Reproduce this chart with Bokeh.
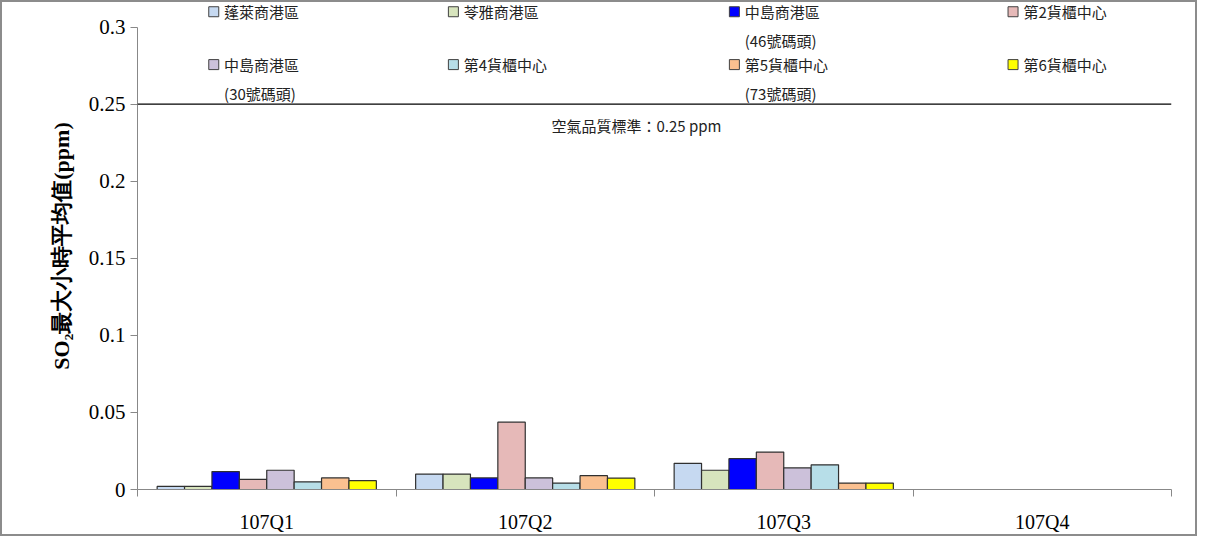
from bokeh.plotting import figure
from bokeh.models import Range1d, FixedTicker, Span
from bokeh.core.properties import value
from bokeh.embed import file_html
from bokeh.resources import INLINE

quarters = ['107Q1', '107Q2', '107Q3', '107Q4']
stations = ['蓬萊商港區', '苓雅商港區', '中島商港區', '第2貨櫃中心',
            '中島商港區', '第4貨櫃中心', '第5貨櫃中心', '第6貨櫃中心']
station_notes = ['', '', '(46號碼頭)', '', '(30號碼頭)', '', '(73號碼頭)', '']
colors = ['#c6d9f1', '#d7e4bd', '#0000ff', '#e6b9b8', '#ccc1da', '#b7dee8', '#fac090', '#ffff00']

# values per station, Q1..Q3 (Q4 has no data)
values = [
    [0.002, 0.010, 0.017],
    [0.002, 0.010, 0.0125],
    [0.0116, 0.0075, 0.020],
    [0.0066, 0.0437, 0.0243],
    [0.0125, 0.0075, 0.014],
    [0.005, 0.0042, 0.016],
    [0.0075, 0.009, 0.0042],
    [0.0057, 0.0074, 0.0042],
]
standard = 0.25

cjk = value("Noto Sans CJK TC")

p = figure(width=1197, height=536, output_backend="svg", toolbar_location=None,
           x_range=Range1d(0, 4), y_range=Range1d(0, 0.316),
           min_border_left=135, min_border_right=28, min_border_top=0, min_border_bottom=49)
p.styles = {"border": "2px solid #8c8c8c"}
p.outline_line_color = None
p.xgrid.visible = False
p.ygrid.visible = False

bw = 0.106
for i, name in enumerate(stations):
    xs = [q + 0.5 + (i - 3.5) * bw for q in range(3)]
    p.vbar(x=xs, top=values[i], width=bw, fill_color=colors[i], line_color='#303030', line_width=1.2)

p.add_layout(Span(location=standard, dimension='width', line_color='black', line_width=1.2))
p.text(x=[1.93], y=[0.236], text=['空氣品質標準：0.25 ppm'], text_font=cjk, text_font_size='15px',
       text_align='center', text_baseline='middle', color='#222')

# legend drawn by hand
lx = [0.295, 1.222, 2.309, 3.387]
ly = [0.310, 0.2757]
for i, name in enumerate(stations):
    x = lx[i % 4]
    y = ly[i // 4]
    p.scatter([x], [y], marker='square', size=10, fill_color=colors[i], line_color='#404040')
    p.text([x + 0.04], [y], text=[name], text_font=cjk, text_font_size='15px',
           text_baseline='middle', color='#222')
    if station_notes[i]:
        p.text([x + 0.04], [y - 0.0188], text=[station_notes[i]], text_font=cjk, text_font_size='15px',
               text_baseline='middle', color='#222')

p.yaxis.bounds = (0, 0.3)
p.yaxis.ticker = FixedTicker(ticks=[0, 0.05, 0.1, 0.15, 0.2, 0.25, 0.3])
p.yaxis.major_label_overrides = {0: '0', 0.05: '0.05', 0.1: '0.1', 0.15: '0.15', 0.2: '0.2', 0.25: '0.25', 0.3: '0.3'}
p.yaxis.major_label_text_font = "Liberation Serif"
p.yaxis.major_label_text_font_size = '21px'
p.yaxis.major_label_text_color = 'black'
p.yaxis.minor_tick_line_color = None
p.yaxis.major_tick_in = 0
p.yaxis.major_tick_out = 7
p.yaxis.axis_line_color = '#888'
p.yaxis.major_tick_line_color = '#888'
p.yaxis.axis_label = 'SO₂最大小時平均值(ppm)'
p.yaxis.axis_label_text_font = "Liberation Serif"
p.yaxis.axis_label_text_font_size = '22px'
p.yaxis.axis_label_text_font_style = 'bold'
p.yaxis.axis_label_text_color = 'black'
p.yaxis.axis_label_standoff = 12

p.xaxis.ticker = FixedTicker(ticks=[0.5, 1.5, 2.5, 3.5], minor_ticks=[0, 1, 2, 3, 4])
p.xaxis.major_label_overrides = {0.5: quarters[0], 1.5: quarters[1], 2.5: quarters[2], 3.5: quarters[3]}
p.xaxis.major_label_text_font = "Liberation Serif"
p.xaxis.major_label_text_font_size = '20px'
p.xaxis.major_label_text_color = 'black'
p.xaxis.major_tick_line_color = None
p.xaxis.minor_tick_in = 0
p.xaxis.minor_tick_out = 7
p.xaxis.minor_tick_line_color = '#888'
p.xaxis.axis_line_color = '#888'
p.xaxis.major_label_standoff = 14

open("out.html", "w").write(file_html(p, INLINE))
